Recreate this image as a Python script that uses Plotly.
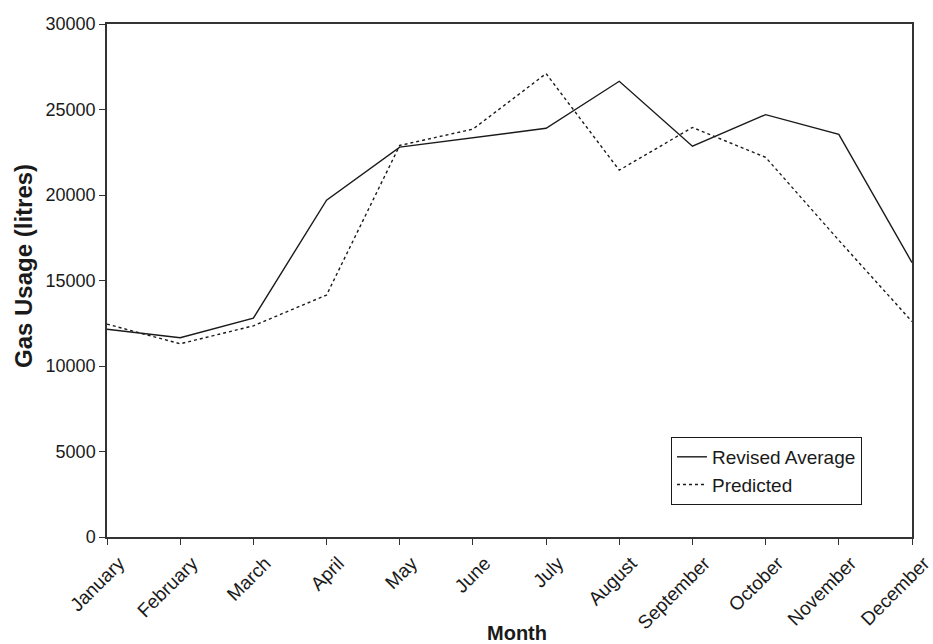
import plotly.graph_objects as go

months = ["January", "February", "March", "April", "May", "June", "July",
          "August", "September", "October", "November", "December"]
revised_average = [12150, 11650, 12800, 19700, 22800, 23350, 23900, 26650, 22850, 24700, 23550, 16050]
predicted = [12450, 11300, 12350, 14150, 22900, 23850, 27100, 21450, 23950, 22200, 17350, 12600]
y_ticks = [0, 5000, 10000, 15000, 20000, 25000, 30000]
y_tick_text = [str(v) for v in y_ticks]

fig = go.Figure()
fig.add_trace(go.Scatter(x=months, y=revised_average, mode="lines", name="Revised Average",
                         legendgroup="a",
                         line=dict(color="#1a1a1a", width=1.4)))
fig.add_trace(go.Scatter(x=months, y=predicted, mode="lines", name="Predicted",
                         legendgroup="b",
                         line=dict(color="#1a1a1a", width=1.4, dash="3px,3px")))

font_family = "Liberation Sans, Arial, sans-serif"
fig.update_layout(
    width=933, height=644,
    margin=dict(l=107, r=21, t=24, b=107, autoexpand=False),
    paper_bgcolor="white", plot_bgcolor="white",
    font=dict(family=font_family, color="#1a1a1a", size=17),
    showlegend=True,
    legend=dict(x=0.7006, y=0.195, xanchor="left", yanchor="top",
                bordercolor="#1a1a1a", borderwidth=1, bgcolor="white",
                font=dict(size=19, family=font_family), tracegroupgap=0),
    xaxis=dict(
        type="category", range=[0, 11], showgrid=False, zeroline=False,
        showline=True, linecolor="#333", linewidth=1.5, mirror=True,
        ticks="outside", ticklen=6, tickcolor="#333", tickangle=-45,
        automargin=False, ticklabelshift=12,
        tickfont=dict(size=19, family=font_family),
    ),
    yaxis=dict(
        range=[0, 30000], tickvals=y_ticks, ticktext=y_tick_text,
        showgrid=False, zeroline=False, automargin=False,
        showline=True, linecolor="#333", linewidth=1.5, mirror=True,
        ticks="outside", ticklen=6, tickcolor="#333",
        tickfont=dict(size=18, family=font_family),
    ),
    annotations=[
        dict(text="<b>Month</b>", xref="paper", yref="paper",
             x=(517 - 107) / 805, y=-(633 - 537) / 513, xanchor="center", yanchor="middle",
             showarrow=False, font=dict(size=20, family=font_family, color="#1a1a1a")),
        dict(text="<b>Gas Usage (litres)</b>", xref="paper", yref="paper",
             x=-(107 - 23) / 805, y=(537 - 266) / 513, xanchor="center", yanchor="middle",
             textangle=-90, showarrow=False,
             font=dict(size=24, family=font_family, color="#1a1a1a")),
    ],
)

fig.write_html("out.html", config={"displayModeBar": False},
               post_script="document.body.style.margin='0';document.body.style.padding='0';")
